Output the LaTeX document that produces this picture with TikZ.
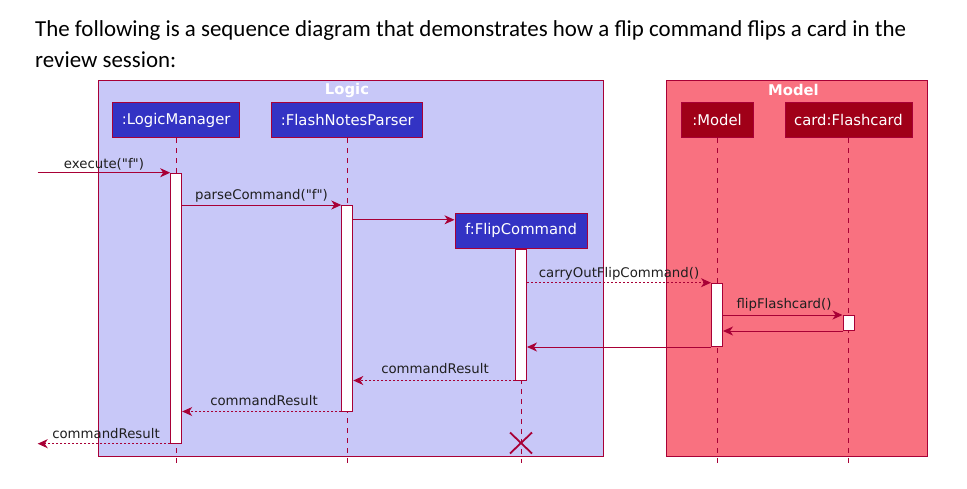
\documentclass[tikz,border=0pt]{standalone}
\usepackage{fontspec}
\setmainfont{DejaVu Sans}[Ligatures=TeXOff]
\newfontfamily\titlefont{Carlito}
\usetikzlibrary{arrows.meta}
\definecolor{crim}{RGB}{168,0,54}
\definecolor{logicbg}{RGB}{200,200,248}
\definecolor{modelbg}{RGB}{249,113,128}
\definecolor{partblue}{RGB}{51,51,196}
\definecolor{partred}{RGB}{160,0,24}
\begin{document}
\begin{tikzpicture}[x=1pt,y=-1pt,
  grp/.style={draw=crim, line width=1pt, inner sep=0pt, anchor=north west, minimum height=376pt},
  grptitle/.style={text=white, font=\bfseries\fontsize{14.8}{16}\selectfont, inner sep=0pt},
  part/.style={draw=crim, line width=1pt, text=white, minimum height=35pt, inner sep=0pt, font=\fontsize{14.8}{17}\selectfont},
  life/.style={draw=crim, line width=0.9pt, dash pattern=on 5pt off 5pt},
  act/.style={draw=crim, fill=white, line width=1pt, minimum width=11pt, inner sep=0pt, anchor=north},
  msg/.style={draw=crim, line width=1pt, -{Stealth[length=10pt,width=9pt,inset=3pt]}},
  ret/.style={msg, dash pattern=on 2pt off 2pt},
  lbl/.style={font=\fontsize{13.3}{15}\selectfont, text=black!88, inner sep=0pt},
  title/.style={anchor=base west, inner sep=0pt, font=\titlefont\fontsize{22.9}{26}\selectfont, text=black}
]
\useasboundingbox (0,0) rectangle (967,488);
\fill[white] (0,0) rectangle (967,488);

% heading text
\node[title] (t1) at (35,36) {The following is a sequence diagram that demonstrates how a flip command flips a card in the};
\node[title] (t2) at (35,67) {review session:};

% groups
\node[grp, fill=logicbg, minimum width=505pt] (logic) at (97.5,80) {};
\node[grp, fill=modelbg, minimum width=260.4pt] (model) at (666.3,80) {};
\node[grptitle] (logict) at (347,90) {Logic};
\node[grptitle] (modelt) at (793.5,90) {Model};

% participants
\node[part, fill=partblue, minimum width=127pt] (lm) at (176.2,120) {:LogicManager};
\node[part, fill=partblue, minimum width=151pt] (fnp) at (347.3,120) {:FlashNotesParser};
\node[part, fill=partblue, minimum width=132pt] (fc) at (521,230.8) {f:FlipCommand};
\node[part, fill=partred, minimum width=72pt] (md) at (717,120) {:Model};
\node[part, fill=partred, minimum width=127pt] (cd) at (848.5,120) {card:Flashcard};

% lifelines
\coordinate (bottom) at (0,463);
\draw[life] (lm.south) -- (lm.south |- bottom);
\draw[life] (fnp.south) -- (fnp.south |- bottom);
\draw[life] (fc.south) -- (fc.south |- bottom);
\draw[life] (md.south) -- (md.south |- bottom);
\draw[life] (cd.south) -- (cd.south |- bottom);

% activation bars
\node[act, minimum height=270pt] (lma) at (176.2,172.7) {};
\node[act, minimum height=205.5pt] (fpa) at (347.3,205) {};
\node[act, minimum height=130.7pt] (fca) at (fc.south) {};
\node[act, minimum height=63.3pt] (mda) at (717,282.7) {};
\node[act, minimum height=15pt] (cda) at (848.5,315) {};

% messages
\coordinate (ext) at (37.7,172.7);
\draw[msg] (ext) -- (lma.north west);
\node[lbl] (l1) at (104,164) {execute("f")};

\draw[msg] (lma.east |- fpa.north) -- (fpa.north west);
\node[lbl] (l2) at (261.5,196) {parseCommand("f")};

\coordinate (fcin) at ([yshift=-7pt]fc.north west);
\draw[msg] (fpa.east |- fcin) -- (fcin);

\draw[ret] (fca.east |- mda.north) -- (mda.north west);
\node[lbl] (l3) at (619,273.5) {carryOutFlipCommand()};

\draw[msg] (mda.east |- cda.north) -- (cda.north west);
\node[lbl] (l4) at (784,305) {flipFlashcard()};

\draw[msg] (cda.south west) -- (mda.east |- cda.south);
\draw[msg] (mda.south west) -- (fca.east |- mda.south);

\draw[ret] (fca.south west) -- (fpa.east |- fca.south);
\node[lbl] (l5) at (435,369) {commandResult};

\draw[ret] (fpa.south west) -- (lma.east |- fpa.south);
\node[lbl] (l6) at (264,401) {commandResult};

\coordinate (exit) at (37.7,442.7);
\draw[ret] (lma.south west) -- (exit |- lma.south);
\node[lbl] (l7) at (106,434) {commandResult};

% destroy mark
\coordinate (xm) at (521,443);
\draw[crim, line width=1.8pt] (xm) ++(-11,-10.5) -- ++(22,21);
\draw[crim, line width=1.8pt] (xm) ++(-11,10.5) -- ++(22,-21);
\end{tikzpicture}
\end{document}
